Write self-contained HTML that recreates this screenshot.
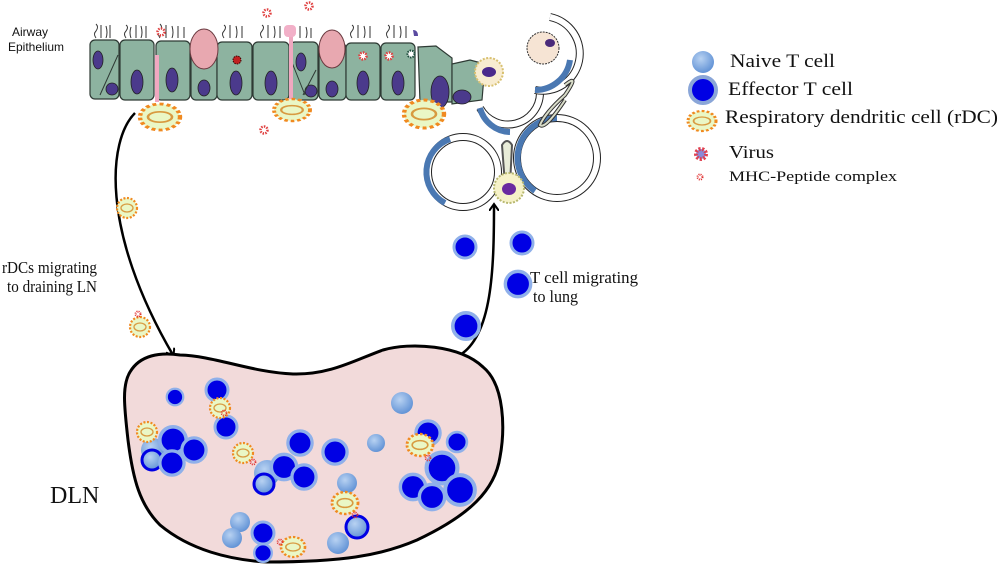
<!DOCTYPE html>
<html><head><meta charset="utf-8"><style>
html,body{margin:0;padding:0;background:#fff;}
svg{display:block;}
text{font-family:"Liberation Serif",serif;fill:#111;}
</style></head><body>
<svg width="1000" height="566" viewBox="0 0 1000 566" xmlns="http://www.w3.org/2000/svg">
<defs>
<radialGradient id="nv" cx="0.4" cy="0.35" r="0.7"><stop offset="0" stop-color="#b8d2f2"/><stop offset="1" stop-color="#5d8fd4"/></radialGradient>
<g id="rdc"><circle r="10" fill="#eaf7c6" stroke="#f08a20" stroke-width="2.2" stroke-dasharray="2 1.6"/><ellipse rx="6" ry="4" fill="none" stroke="#d89a40" stroke-width="1.3"/></g>
<g id="eff"><circle r="11" fill="#0000e4" stroke="#8fb0ea" stroke-width="3"/></g>
<g id="vir"><circle r="3.5" fill="#fff" stroke="#e04040" stroke-width="2.5" stroke-dasharray="1.5 1.2"/></g>
<marker id="ah" markerWidth="10" markerHeight="10" refX="6" refY="5" orient="auto" markerUnits="userSpaceOnUse"><path d="M0,0 L7,5 L0,10" fill="none" stroke="#000" stroke-width="2"/></marker>
</defs>

<text x="12" y="36" font-size="12" style="font-family:'Liberation Sans',sans-serif">Airway</text>
<text x="8" y="51" font-size="12" style="font-family:'Liberation Sans',sans-serif">Epithelium</text>

<g stroke="#333" stroke-width="1" fill="none">
<path d="M96,38 q-3,-4 0,-7 q3,-4 0,-7 M101,38 v-13 M106,38 q2,-5 0,-12 M110,38 v-13"/>
<path d="M126,38 q-3,-4 0,-7 q3,-4 0,-6 M131,38 q-2,-5 0,-11 M136,38 v-13 M141,38 q2,-5 0,-12 M146,38 v-12"/>
<path d="M160,38 q-3,-4 0,-7 q3,-4 0,-7 M166,38 v-13 M172,38 q2,-5 0,-12 M178,38 v-12 M184,38 v-11"/>
<path d="M224,38 q-3,-4 0,-7 q3,-4 0,-6 M230,38 v-13 M236,38 q2,-5 0,-12 M242,38 v-12"/>
<path d="M262,38 q-3,-4 0,-7 q3,-4 0,-6 M268,38 v-13 M274,38 q2,-5 0,-12 M280,38 v-12 M300,38 v-12 M306,38 q2,-5 0,-11 M311,38 v-10"/>
<path d="M352,38 q-3,-4 0,-7 q3,-4 0,-6 M358,38 v-13 M364,38 q2,-5 0,-12 M370,38 v-12"/>
<path d="M388,38 q-3,-4 0,-7 q3,-4 0,-6 M394,38 v-13 M400,38 q2,-5 0,-12 M406,38 v-12"/>
</g>

<g stroke="#2e3a34" stroke-width="1.2" fill="#8db3a0">
<rect x="90" y="40" width="29" height="59" rx="5"/>
<rect x="120" y="40" width="34" height="60" rx="5"/>
<rect x="156" y="41" width="34" height="59" rx="5"/>
<rect x="191" y="43" width="26" height="57" rx="5"/>
<rect x="217" y="42" width="35" height="58" rx="5"/>
<rect x="253" y="42" width="36" height="58" rx="5"/>
<rect x="290" y="42" width="28" height="58" rx="5"/>
<rect x="319" y="43" width="27" height="57" rx="5"/>
<rect x="346" y="43" width="34" height="57" rx="5"/>
<rect x="381" y="43" width="34" height="57" rx="5"/>
<path d="M418,47 L436,46 L452,58 L452,102 L420,102 Z"/>
<path d="M452,64 L470,60 L485,64 L482,100 L452,104 Z"/>
</g>
<g fill="#e8a8b0" stroke="#6a3a40" stroke-width="1">
<ellipse cx="204" cy="49" rx="14" ry="20"/>
<ellipse cx="332" cy="49" rx="13" ry="19"/>
</g>
<g fill="#4b3a8c" stroke="#222" stroke-width="0.8">
<ellipse cx="98" cy="60" rx="5" ry="9"/><ellipse cx="112" cy="89" rx="6" ry="6"/>
<ellipse cx="137" cy="82" rx="6" ry="12"/><ellipse cx="172" cy="80" rx="6" ry="12"/>
<ellipse cx="204" cy="88" rx="6" ry="8"/><ellipse cx="236" cy="83" rx="6" ry="12"/>
<ellipse cx="271" cy="83" rx="6" ry="12"/><ellipse cx="301" cy="62" rx="5" ry="9"/>
<ellipse cx="311" cy="91" rx="6" ry="6"/><ellipse cx="332" cy="89" rx="6" ry="8"/>
<ellipse cx="363" cy="83" rx="6" ry="12"/><ellipse cx="398" cy="83" rx="6" ry="12"/>
<ellipse cx="440" cy="92" rx="9" ry="16"/><ellipse cx="462" cy="97" rx="9" ry="7"/>
</g>
<g stroke="#2e3a34" fill="none"><path d="M118,55 L100,95 M289,55 L305,95 M316,70 L303,95"/></g>
<g stroke="#f0a8c0" stroke-width="4" fill="none"><path d="M157,55 L157,102"/><path d="M291,30 L291,104"/></g>
<rect x="284" y="25" width="12" height="12" rx="4" fill="#f2b0c8"/>
<use href="#vir" x="267" y="13"/><use href="#vir" x="309" y="6"/><use href="#vir" x="161" y="32"/>
<use href="#vir" x="363" y="56"/><use href="#vir" x="389" y="56"/><use href="#vir" x="264" y="130"/>
<circle cx="237" cy="60" r="4" fill="#c02020" stroke="#300" stroke-dasharray="1.5 1"/>
<circle cx="411" cy="54" r="3.5" fill="#fff" stroke="#1a4a3a" stroke-width="2" stroke-dasharray="1.5 1"/>
<path d="M413,30 q5,0 5,6 l-4,0 z" fill="#5a4aa0"/>
<g transform="translate(160,117) scale(2,1.3)"><use href="#rdc"/></g>
<g transform="translate(292,110) scale(1.8,1.1)"><use href="#rdc"/></g>
<g transform="translate(424,114) scale(2,1.4)"><use href="#rdc"/></g>

<g fill="none">
<circle cx="463" cy="172" r="35" stroke="#222" stroke-width="8"/><circle cx="463" cy="172" r="35" stroke="#fff" stroke-width="6"/>
<path d="M450,139 A35,35 0 0 0 445,203" stroke="#4a78b2" stroke-width="6"/>
<circle cx="557" cy="158" r="40" stroke="#222" stroke-width="8"/><circle cx="557" cy="158" r="40" stroke="#fff" stroke-width="6"/>
<path d="M557,118 A40,40 0 0 0 535,191" stroke="#4a78b2" stroke-width="6"/>
<path d="M480,108 A32,32 0 0 0 540,93" stroke="#222" stroke-width="8"/><path d="M480,108 A32,32 0 0 0 540,93" stroke="#fff" stroke-width="6"/>
<path d="M480,108 A32,32 0 0 0 510,132" stroke="#4a78b2" stroke-width="6"/>
<path d="M550,17 A35,35 0 0 1 535,90" stroke="#222" stroke-width="8"/><path d="M550,17 A35,35 0 0 1 535,90" stroke="#fff" stroke-width="6"/>
<path d="M570,60 A35,35 0 0 1 535,90" stroke="#4a78b2" stroke-width="6"/>
<path d="M565,85 q15,-12 0,10 q-20,18 -25,30 q5,5 25,-25" stroke="#333" stroke-width="4"/>
<path d="M565,85 q15,-12 0,10 q-20,18 -25,30 q5,5 25,-25" stroke="#d8dcc8" stroke-width="2"/>
<path d="M505,185 l-3,-40 q5,-8 10,0 l-2,40" stroke="#555" stroke-width="2" fill="#e8ecd8"/>
</g>
<circle cx="543" cy="48" r="16" fill="#f6e4d4" stroke="#333" stroke-dasharray="2 1"/>
<ellipse cx="550" cy="43" rx="5" ry="4" fill="#4a2a7a"/>
<circle cx="489" cy="72" r="14" fill="#f8ecd0" stroke="#d8c070" stroke-width="2" stroke-dasharray="2 1.5"/>
<ellipse cx="489" cy="72" rx="7" ry="5" fill="#4a2a8c"/>
<circle cx="509" cy="188" r="15" fill="#f6f2c8" stroke="#b8b870" stroke-width="2" stroke-dasharray="2 1.5"/>
<ellipse cx="509" cy="189" rx="7" ry="6" fill="#6a2aa0"/>

<circle cx="703" cy="62" r="11" fill="url(#nv)"/>
<circle cx="703" cy="90" r="13" fill="#0000e4" stroke="#8aa6d8" stroke-width="4"/>
<g transform="translate(702,121) scale(1.4,1)"><use href="#rdc"/></g>
<circle cx="701" cy="154" r="5" fill="#8a8ad8" stroke="#e04050" stroke-width="4" stroke-dasharray="2 1.5"/>
<circle cx="700" cy="177" r="2.5" fill="none" stroke="#e03030" stroke-width="2" stroke-dasharray="1 1"/>
<text x="730" y="67" font-size="19" textLength="105" lengthAdjust="spacingAndGlyphs">Naive T cell</text>
<text x="728" y="95" font-size="19" textLength="125" lengthAdjust="spacingAndGlyphs">Effector T cell</text>
<text x="725" y="123" font-size="19" textLength="273" lengthAdjust="spacingAndGlyphs">Respiratory dendritic cell (rDC)</text>
<text x="729" y="158" font-size="18" textLength="45" lengthAdjust="spacingAndGlyphs">Virus</text>
<text x="729" y="181" font-size="15" textLength="168" lengthAdjust="spacingAndGlyphs">MHC-Peptide complex</text>

<path d="M135,113 C108,140 100,230 173,355" fill="none" stroke="#000" stroke-width="2.5" marker-end="url(#ah)"/>
<path d="M460,355 C492,335 494,270 494,205" fill="none" stroke="#000" stroke-width="2.5" marker-end="url(#ah)"/>
<use href="#rdc" x="127" y="208"/>
<use href="#rdc" x="140" y="327"/>
<circle cx="138" cy="314" r="2.5" fill="none" stroke="#e03030" stroke-width="2" stroke-dasharray="1 1"/>
<text x="2" y="273" font-size="17" textLength="95" lengthAdjust="spacingAndGlyphs">rDCs migrating</text>
<text x="7" y="292" font-size="17" textLength="90" lengthAdjust="spacingAndGlyphs">to draining LN</text>
<text x="530" y="283" font-size="17" textLength="108" lengthAdjust="spacingAndGlyphs">T cell migrating</text>
<text x="533" y="302" font-size="17" textLength="45" lengthAdjust="spacingAndGlyphs">to lung</text>
<use href="#eff" x="465" y="247"/><use href="#eff" x="522" y="243"/>
<g transform="translate(518,284) scale(1.15)"><use href="#eff"/></g>
<g transform="translate(466,326) scale(1.2)"><use href="#eff"/></g>

<path d="M130,372 C140,355 160,352 180,355 C215,356 250,372 293,374 C330,375 355,360 383,350 C410,342 460,345 483,367 C505,385 505,430 500,457 C495,490 470,515 417,540 C380,556 340,562 267,562 C230,560 190,550 160,525 C140,505 133,480 128,440 C124,405 122,385 130,372 Z" fill="#f2dada" stroke="#000" stroke-width="3"/>
<text x="50" y="503" font-size="24">DLN</text>
<g>
<circle cx="153" cy="450" r="12" fill="url(#nv)"/><circle cx="152" cy="460" r="10" fill="url(#nv)" stroke="#0000e4" stroke-width="3"/>
<circle cx="267" cy="473" r="13" fill="url(#nv)"/><circle cx="264" cy="484" r="10" fill="url(#nv)" stroke="#0000e4" stroke-width="3"/>
<use href="#eff" transform="translate(175,397) scale(0.75)"/>
<use href="#eff" x="217" y="390"/><use href="#eff" x="226" y="427"/>
<g transform="translate(173,440) scale(1.2)"><use href="#eff"/></g>
<g transform="translate(194,450) scale(1.1)"><use href="#eff"/></g>
<g transform="translate(172,463) scale(1.1)"><use href="#eff"/></g>
<g transform="translate(300,443) scale(1.1)"><use href="#eff"/></g>
<g transform="translate(284,467) scale(1.15)"><use href="#eff"/></g>
<g transform="translate(304,477) scale(1.1)"><use href="#eff"/></g>
<g transform="translate(335,452) scale(1.1)"><use href="#eff"/></g>
<circle cx="376" cy="443" r="9" fill="url(#nv)"/>
<circle cx="402" cy="403" r="11" fill="url(#nv)"/>
<g transform="translate(428,433) scale(1.1)"><use href="#eff"/></g>
<use href="#eff" transform="translate(457,442) scale(0.9)"/>
<g transform="translate(413,487) scale(1.15)"><use href="#eff"/></g>
<g transform="translate(442,468) scale(1.4)"><use href="#eff"/></g>
<g transform="translate(432,497) scale(1.15)"><use href="#eff"/></g>
<g transform="translate(460,490) scale(1.35)"><use href="#eff"/></g>
<circle cx="347" cy="483" r="10" fill="url(#nv)"/>
<circle cx="357" cy="527" r="11" fill="url(#nv)" stroke="#0000e4" stroke-width="3"/>
<circle cx="338" cy="543" r="11" fill="url(#nv)"/>
<circle cx="240" cy="522" r="10" fill="url(#nv)"/>
<circle cx="232" cy="538" r="10" fill="url(#nv)"/>
<use href="#eff" x="263" y="533"/>
<use href="#eff" transform="translate(263,553) scale(0.8)"/>
<use href="#rdc" x="147" y="432"/><use href="#rdc" x="220" y="408"/>
<use href="#rdc" x="243" y="453"/>
<g transform="translate(345,503) scale(1.3,1.1)"><use href="#rdc"/></g>
<g transform="translate(420,445) scale(1.3,1.1)"><use href="#rdc"/></g>
<g transform="translate(293,547) scale(1.2,1)"><use href="#rdc"/></g>
<g fill="none" stroke="#e03030" stroke-width="1.8" stroke-dasharray="1 1">
<circle cx="224" cy="413" r="2.5"/><circle cx="253" cy="462" r="2.5"/><circle cx="428" cy="458" r="2.5"/><circle cx="280" cy="542" r="2.5"/><circle cx="355" cy="515" r="2.5"/>
</g>
</g>
</svg>
</body></html>
